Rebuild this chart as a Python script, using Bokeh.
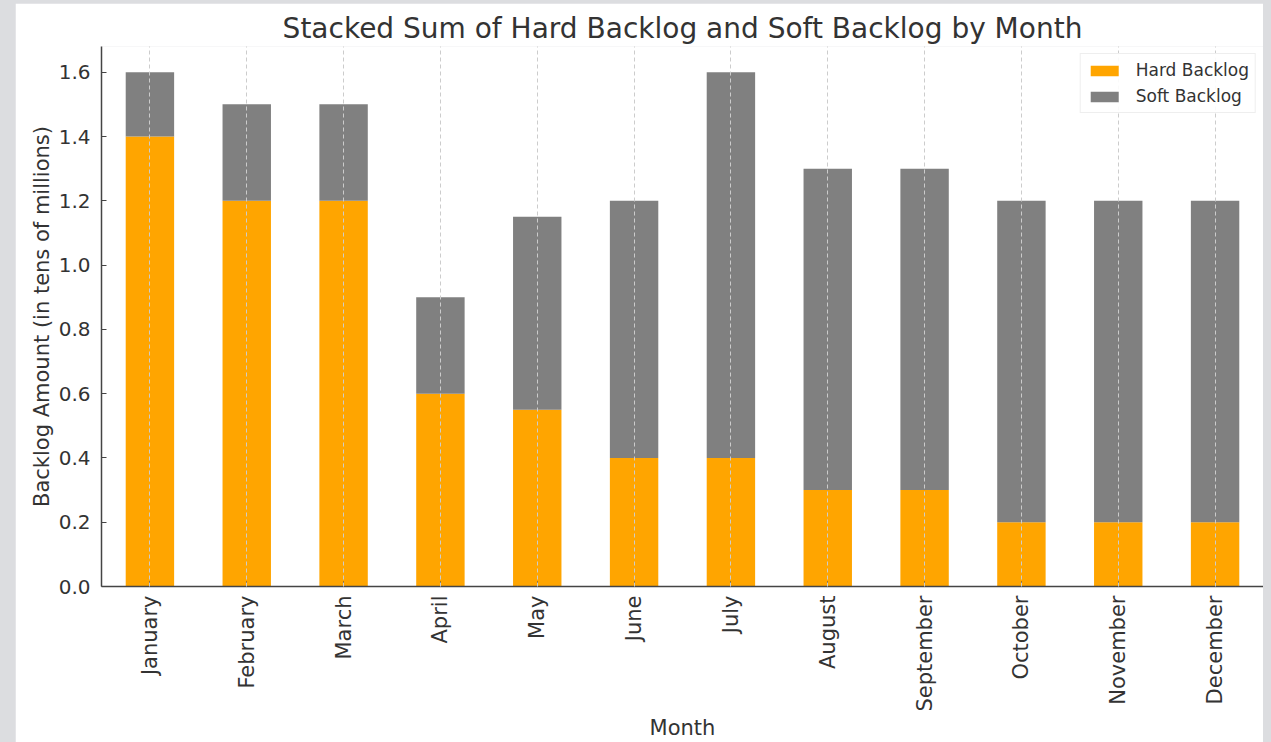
import math
from bokeh.plotting import figure
from bokeh.models import ColumnDataSource, FixedTicker, CustomJSTickFormatter, Label, Range1d, FactorRange
from bokeh.layouts import column
from bokeh.embed import file_html
from bokeh.resources import INLINE

months = ["January", "February", "March", "April", "May", "June",
          "July", "August", "September", "October", "November", "December"]
hard_backlog = [14e6, 12e6, 12e6, 6e6, 5.5e6, 4e6, 4e6, 3e6, 3e6, 2e6, 2e6, 2e6]
soft_backlog = [2e6, 3e6, 3e6, 3e6, 6e6, 8e6, 12e6, 10e6, 10e6, 10e6, 10e6, 10e6]
y_ticks = [0, 2e6, 4e6, 6e6, 8e6, 10e6, 12e6, 14e6, 16e6]

FONT = "DejaVu Sans"
TXT = "#333333"

source = ColumnDataSource(dict(month=months, hard=hard_backlog, soft=soft_backlog))

p = figure(x_range=FactorRange(*months, range_padding=0),
           y_range=Range1d(0, 16.8e6),
           width=1248, height=739,
           output_backend="svg", toolbar_location=None,
           min_border_left=86, min_border_right=0,
           min_border_top=43, min_border_bottom=156)

renderers = p.vbar_stack(["hard", "soft"], x="month", width=0.5, source=source,
                         color=["#FFA500", "#808080"], line_color=None,
                         legend_label=["Hard Backlog", "Soft Backlog"])

p.title.text = "Stacked Sum of Hard Backlog and Soft Backlog by Month"
p.title.text_font = FONT
p.title.text_font_size = "28px"
p.title.text_font_style = "normal"
p.title.text_color = TXT
p.title.align = "center"
p.title.standoff = 4

p.outline_line_color = None
p.background_fill_color = "white"
p.border_fill_color = "white"

for ax in (p.xaxis[0], p.yaxis[0]):
    ax.axis_line_color = "#444444"
    ax.axis_line_width = 1.5
    ax.major_tick_line_color = "#444444"
    ax.major_tick_in = 5
    ax.major_tick_out = 0
    ax.minor_tick_line_color = None
    ax.major_label_text_font = FONT
    ax.major_label_text_font_size = "20px"
    ax.major_label_text_color = TXT
    ax.axis_label_text_font = FONT
    ax.axis_label_text_font_size = "21px"
    ax.axis_label_text_font_style = "normal"
    ax.axis_label_text_color = TXT

p.xaxis.axis_label = "Month"
p.xaxis.major_label_orientation = math.pi / 2
p.xaxis.major_label_text_font_size = "21px"
p.xaxis.major_label_standoff = 9
p.xaxis.axis_label_standoff = 1

p.yaxis.axis_label = "Backlog Amount (in tens of millions)"
p.yaxis.ticker = FixedTicker(ticks=y_ticks)
p.yaxis.formatter = CustomJSTickFormatter(code="return (tick/1e7).toFixed(1);")
p.yaxis.major_label_standoff = 11
p.yaxis.axis_label_standoff = 2

p.xgrid.grid_line_color = "#cccccc"
p.xgrid.grid_line_dash = "4 3"
p.xgrid.grid_line_width = 1
p.xgrid.level = "overlay"
p.ygrid.visible = False

p.add_layout(Label(x=0, y=16.8e6, x_offset=2, y_offset=5, text="1e7",
                   text_font=FONT, text_font_size="20px", text_color=TXT,
                   text_baseline="bottom"))

p.legend.location = "top_right"
p.legend.margin = 7
p.legend.padding = 6
p.legend.spacing = 6
p.legend.label_standoff = 14
p.legend.label_text_font = FONT
p.legend.label_text_font_size = "17px"
p.legend.label_text_color = TXT
p.legend.glyph_width = 35
p.legend.glyph_height = 13
p.legend.border_line_color = "#dddddd"
p.legend.background_fill_alpha = 0.9

p.margin = (3, 8, 0, 15)
layout = column(p, styles={"background-color": "#dcdde0"})

open("out.html", "w").write(file_html(layout, INLINE))
